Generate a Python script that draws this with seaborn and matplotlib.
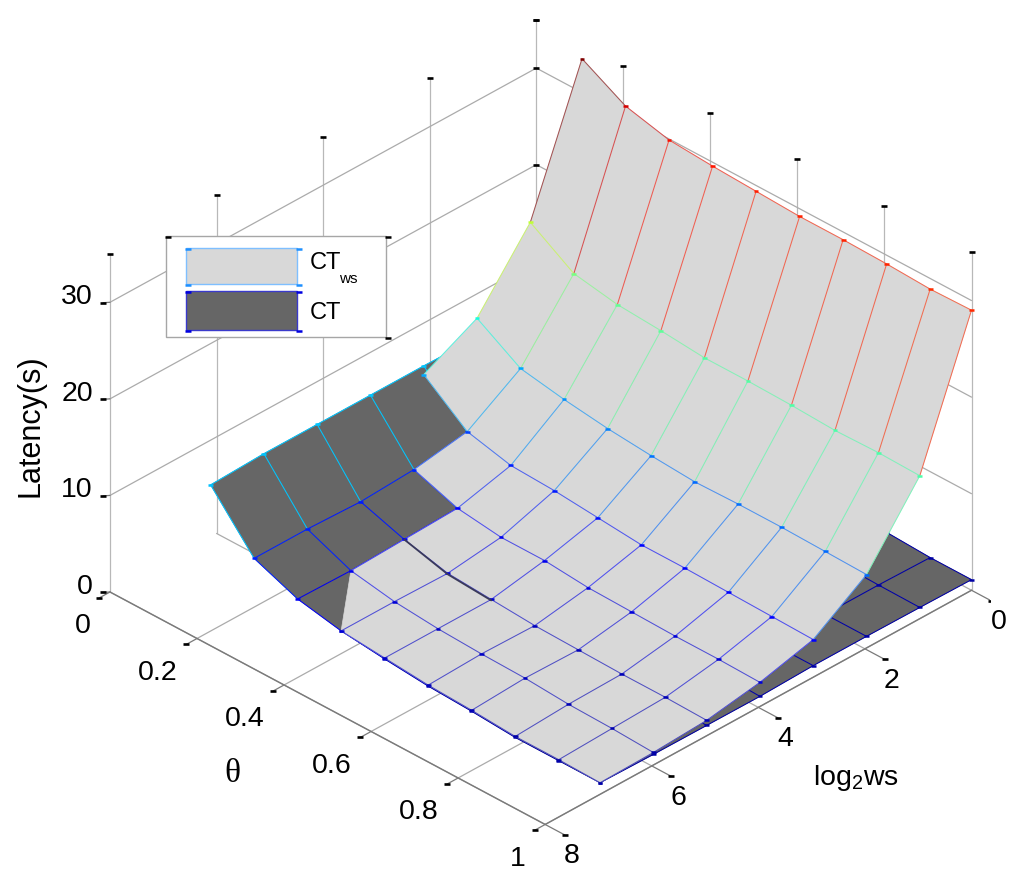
import numpy as np
import seaborn as sns
import matplotlib
matplotlib.use("Agg")
import matplotlib.pyplot as plt
from matplotlib.patches import Rectangle
from mpl_toolkits.mplot3d import proj3d
from mpl_toolkits.mplot3d.art3d import Poly3DCollection, Line3DCollection

# ---- data -------------------------------------------------------------
log2ws = [0, 0.97, 1.97, 2.97, 3.97, 4.97, 5.97, 6.97]
theta = [0.105, 0.205, 0.305, 0.405, 0.505, 0.605, 0.705, 0.805, 0.905, 1.0]

ct_ws_0 = [33.5, 31.0, 29.9, 29.6, 29.4, 29.2, 29.2, 29.1, 28.9, 29.0]
ct_ws_1 = [19.5, 16.6, 15.8, 15.5, 15.1, 15.1, 15.0, 14.8, 14.9, 14.8]
ct_ws_2 = [12.6, 9.8, 9.0, 8.4, 8.0, 7.7, 7.8, 7.8, 7.7, 7.6]
ct_ws_3 = [9.8, 6.3, 5.2, 5.0, 4.6, 4.2, 4.2, 4.1, 4.0, 3.9]
ct_ws_4 = [8.5, 5.4, 3.8, 3.2, 3.2, 2.8, 2.7, 2.6, 2.6, 2.5]
ct_ws_5 = [8.3, 4.4, 3.6, 2.5, 2.2, 1.9, 1.8, 1.7, 1.7, 1.6]
ct_ws_6 = [8.2, 4.6, 3.4, 2.6, 2.2, 2.0, 1.9, 1.6, 1.5, 1.3]
ct_ws_7 = [8.1, 4.8, 3.0, 2.6, 2.2, 1.8, 1.6, 1.3, 1.3, 1.2]

ct_0 = [10.5, 5.2, 3.4, 2.5, 2.0, 1.7, 1.5, 1.3, 1.1, 1.1]
ct_1 = [10.5, 5.2, 3.4, 2.5, 2.0, 1.7, 1.5, 1.3, 1.2, 1.16]
ct_2 = [10.6, 5.2, 3.4, 2.5, 2.0, 1.7, 1.5, 1.3, 1.2, 1.2]
ct_3 = [10.7, 6.25, 3.5, 2.5, 2.0, 1.7, 1.5, 1.3, 1.2, 1.2]
ct_4 = [10.7, 5.4, 3.8, 2.5, 2.0, 1.7, 1.5, 1.3, 1.2, 1.05]
ct_5 = [10.7, 5.1, 3.6, 2.4, 2.1, 1.7, 1.5, 1.3, 1.2, 1.07]
ct_6 = [10.7, 5.3, 3.4, 2.5, 2.1, 1.8, 1.6, 1.4, 1.3, 1.1]
ct_7 = [10.5, 5.3, 3.5, 2.6, 2.1, 1.7, 1.5, 1.2, 1.2, 1.2]

ws_ticks = [0, 2, 4, 6, 8]
theta_ticks = [0, 0.2, 0.4, 0.6, 0.8, 1]
theta_tick_labels = ["0", "0.2", "0.4", "0.6", "0.8", "1"]
z_ticks = [0, 10, 20, 30]
z_top = 35

LIGHT = "#d8d8d8"
DARK = "#666666"

# ---- theme ------------------------------------------------------------
sns.set_theme(style="white")
plt.rcParams["font.family"] = ["Liberation Sans", "DejaVu Sans"]
plt.rcParams["mathtext.default"] = "regular"
plt.rcParams["text.color"] = "black"
jet = matplotlib.colormaps["jet"]

W, H = 1024, 885
fig = plt.figure(figsize=(W / 100, H / 100), dpi=100, facecolor="white")
ax = fig.add_axes([0, 0, 1, 1], projection="3d", proj_type="ortho",
                  computed_zorder=False)
ax.set_xlim(0, 8)
ax.set_ylim(0, 1)
ax.set_zlim(0, z_top)
ax.set_xticks([])
ax.set_yticks([])
ax.set_zticks([])
ax.set_box_aspect((607, 611, 402))
ax.view_init(elev=32.8, azim=44.6)
ax.set_axis_off()
ax.patch.set_alpha(0)


def proj2d(x, y, z):
    u, v, _ = proj3d.proj_transform(x, y, z, ax.get_proj())
    return u, v


# place the projected box on the canvas from its left and right floor corners
u_l, v_l = proj2d(8, 0, 0)
u_r, v_r = proj2d(0, 1, 0)
xmin, xmax = ax.viewLim.x0, ax.viewLim.x1
ymin, ymax = ax.viewLim.y0, ax.viewLim.y1
scale = (971.5 - 110) / (u_r - u_l)          # pixels per projected unit
side = scale * (xmax - xmin)
left = 110 - scale * (u_l - xmin)
bottom = (H - 592) - scale * (v_l - ymin)
ax.set_position([left / W, bottom / H, side / W, side / H])


def to_px(x, y, z):
    u, v = proj2d(x, y, z)
    return left + scale * (u - xmin), H - (bottom + scale * (v - ymin))


Zl = np.array([ct_ws_0, ct_ws_1, ct_ws_2, ct_ws_3, ct_ws_4, ct_ws_5, ct_ws_6, ct_ws_7])
Zd = np.array([ct_0, ct_1, ct_2, ct_3, ct_4, ct_5, ct_6, ct_7])
WS = np.array(log2ws, dtype=float)
TH = np.array(theta)
zmax = Zl.max()


def col(z, alpha=1.0):
    r, g, b, _ = jet(min(z / zmax, 1.0))
    return (r, g, b, alpha)


# ---- box lines --------------------------------------------------------
GRID = "#ababab"
lkw = dict(lw=0.9, zorder=1)
for w in ws_ticks:
    ax.plot([w, w], [0, 0], [0, z_top], color="#b8b8b8", **lkw)
    ax.plot([w, w], [0, 1], [0, 0], color=GRID, **lkw)
for t in theta_ticks[1:]:
    ax.plot([0, 0], [t, t], [0, z_top], color="#b8b8b8", **lkw)
    ax.plot([0, 8], [t, t], [0, 0], color=GRID, **lkw)
for z in z_ticks[1:]:
    ax.plot([8, 0], [0, 0], [z, z], color=GRID, **lkw)
    ax.plot([0, 0], [0, 1], [z, z], color=GRID, **lkw)
ax.plot([8, 8], [0, 1], [0, 0], color="#7a7a7a", lw=1.0, zorder=1.1)
ax.plot([8, 0], [1, 1], [0, 0], color="#7a7a7a", lw=1.0, zorder=1.1)

# tick stubs, with their little black end marks
dash = dict(marker="_", color="black", s=16, linewidths=1.9, depthshade=False, zorder=1.2)
for w in ws_ticks:
    ax.plot([w, w], [1, 1.045], [0, 0], color="#7a7a7a", lw=0.9, zorder=1.1)
    ax.scatter([w], [1.045], [0], **dash)
    ax.scatter([w], [0], [z_top], **dash)
for t in theta_ticks:
    ax.plot([8, 8.2], [t, t], [0, 0], color="#7a7a7a", lw=0.9, zorder=1.1)
    ax.scatter([8.2], [t], [0], **dash)
    ax.scatter([0], [t], [z_top], **dash)
for z in z_ticks:
    ax.plot([8, 8.13], [0, 0], [z, z + 0.35], color="#7a7a7a", lw=0.9, zorder=1.1)
    ax.scatter([8.13], [0], [z + 0.35], **dash)
    ax.scatter([0], [0], [z], **dash)


# ---- surfaces ---------------------------------------------------------
def clip_tri(tri, diff):
    """part of a triangle where diff >= 0, as (ws, theta, z) corners"""
    pts = [(WS[i], TH[j], Zl[i, j], diff[i, j]) for i, j in tri]
    if max(p[3] for p in pts) <= 1e-9:
        return None
    out = []
    for k in range(3):
        p, q = pts[k], pts[(k + 1) % 3]
        if p[3] >= 0:
            out.append(p[:3])
        if (p[3] > 0 and q[3] < 0) or (p[3] < 0 and q[3] > 0):
            f = p[3] / (p[3] - q[3])
            out.append(tuple(p[n] + f * (q[n] - p[n]) for n in range(3)))
    return out if len(out) >= 3 else None


nw, nt = Zl.shape
# dark surface: CT
verts = [[(WS[i], TH[j], Zd[i, j]), (WS[i], TH[j + 1], Zd[i, j + 1]),
          (WS[i + 1], TH[j + 1], Zd[i + 1, j + 1]), (WS[i + 1], TH[j], Zd[i + 1, j])]
         for i in range(nw - 1) for j in range(nt - 1)]
ax.add_collection3d(Poly3DCollection(verts, facecolors=DARK, edgecolors=DARK, linewidths=0.4,
                                     zorder=2), autolim=False)
segs, cols = [], []
for i in range(nw):
    for j in range(nt):
        if j < nt - 1:
            segs.append([(WS[i], TH[j], Zd[i, j]), (WS[i], TH[j + 1], Zd[i, j + 1])])
            cols.append(col(Zd[i, j]))
        if i < nw - 1:
            segs.append([(WS[i], TH[j], Zd[i, j]), (WS[i + 1], TH[j], Zd[i + 1, j])])
            cols.append(col(Zd[i, j]))
ax.add_collection3d(Line3DCollection(segs, colors=cols, linewidths=0.75, zorder=3), autolim=False)
iw, it = np.meshgrid(range(nw), range(nt), indexing="ij")
ax.scatter(WS[iw].ravel(), TH[it].ravel(), Zd.ravel(), marker="_", s=12, linewidths=1.8,
           c=[col(v) for v in Zd.ravel()], depthshade=False, zorder=3.1)

# light surface: CT_ws, only where it lies above CT
D = Zl - Zd
D[3, 0] = 0.05        # the light sheet still covers CT at this corner


def hidden_cell(i, j):
    return j == 0 and i >= 3


polys = []
for i in range(nw - 1):
    for j in range(nt - 1):
        if hidden_cell(i, j):
            continue
        a, b, c, d = (i, j), (i, j + 1), (i + 1, j + 1), (i + 1, j)
        if min(D[a], D[b], D[c], D[d]) >= 0 and max(D[a], D[c]) > 0 and max(D[b], D[d]) > 0:
            polys.append([(WS[p], TH[q], Zl[p, q]) for p, q in (a, b, c, d)])
            continue
        for tri in ((a, b, c), (a, c, d)):
            p = clip_tri(tri, D)
            if p is not None:
                polys.append(p)
ax.add_collection3d(Poly3DCollection(polys, facecolors=LIGHT, edgecolors=LIGHT, linewidths=0.5,
                                     zorder=4), autolim=False)


def clipped_segment(i0, j0, i1, j1):
    p = np.array([WS[i0], TH[j0], Zl[i0, j0]])
    q = np.array([WS[i1], TH[j1], Zl[i1, j1]])
    a, b = D[i0, j0], D[i1, j1]
    if a <= 0 and b <= 0 and (a < 0 or b < 0):
        return None
    if a < 0:
        p = p + (a / (a - b)) * (q - p)
    elif b < 0:
        q = p + (a / (a - b)) * (q - p)
    return [tuple(p), tuple(q)]


segs, cols = [], []
for i in range(nw):
    for j in range(nt):
        if j < nt - 1:
            s = clipped_segment(i, j, i, j + 1)
            if s:
                segs.append(s)
                cols.append(col(Zl[i, j], 0.62))
        if i < nw - 1 and not (j == 0 and i >= 3):
            s = clipped_segment(i, j, i + 1, j)
            if s:
                segs.append(s)
                cols.append(col(Zl[i, j], 0.62))
ax.add_collection3d(Line3DCollection(segs, colors=cols, linewidths=0.75, zorder=5), autolim=False)
vis = D.ravel() >= 0
ax.scatter(WS[iw].ravel()[vis], TH[it].ravel()[vis], Zl.ravel()[vis], marker="_", s=12,
           linewidths=1.8, c=[col(v) for v in Zl.ravel()[vis]], depthshade=False, zorder=5.1)
# thin sliver of CT showing along the log2ws = 5 row
ax.plot([WS[5]] * 3, TH[2:5], Zd[5, 2:5], color="#3a3a5a", lw=1.3, zorder=5.2)

# ---- overlay: tick labels, axis labels and legend ---------------------
ov = fig.add_axes([0, 0, 1, 1], zorder=20)
ov.set_xlim(0, W)
ov.set_ylim(H, 0)
ov.set_xticks([])
ov.set_yticks([])
ov.set_axis_off()
ov.patch.set_alpha(0)

tkw = dict(fontsize=20.5, color="black", va="center")
for w in ws_ticks:
    px, py = to_px(w, 1.062, -1.8)
    ov.text(px, py, str(w), ha="center", **tkw)
for t, s in zip(theta_ticks, theta_tick_labels):
    px, py = to_px(8.36, t, -2.45)
    ov.text(px, py, s, ha="right", **tkw)
for z in z_ticks:
    px, py = to_px(8.32, 0, z + 1.5)
    ov.text(px, py, str(z), ha="right", **tkw)

ov.text(31, 426, "Latency(s)", rotation=90, fontsize=22, ha="center", va="center")
ov.text(856, 778, "log$_2$ws", fontsize=20.5, ha="center", va="center")
ov.text(232, 774, "θ", fontsize=24, ha="center", va="center",
        family=["Liberation Serif", "DejaVu Serif"])

ov.add_patch(Rectangle((165.5, 235.5), 220, 101, facecolor="white", edgecolor="#a6a6a6", lw=1.0))
ov.add_patch(Rectangle((186, 248), 111, 36, facecolor=LIGHT, edgecolor="#7fbfff", lw=1.0))
ov.add_patch(Rectangle((186, 291), 111, 39, facecolor=DARK, edgecolor="#3a3acc", lw=1.0))
ov.scatter([188, 299, 188, 299], [249, 249, 285, 285], marker="_", s=14, linewidths=1.8, c="#1e90ff")
ov.scatter([188, 299, 188, 299], [292, 292, 331, 331], marker="_", s=14, linewidths=1.8, c="#0000e0")
ov.scatter([168, 388, 388], [237, 237, 338], marker="_", s=14, linewidths=1.8, c="black")
ov.text(310, 263, "CT", fontsize=17, ha="left", va="center")
ov.text(339, 279, "ws", fontsize=11, ha="left", va="center")
ov.text(310, 313, "CT", fontsize=17, ha="left", va="center")

fig.savefig("out.png", dpi=100, facecolor="white")
